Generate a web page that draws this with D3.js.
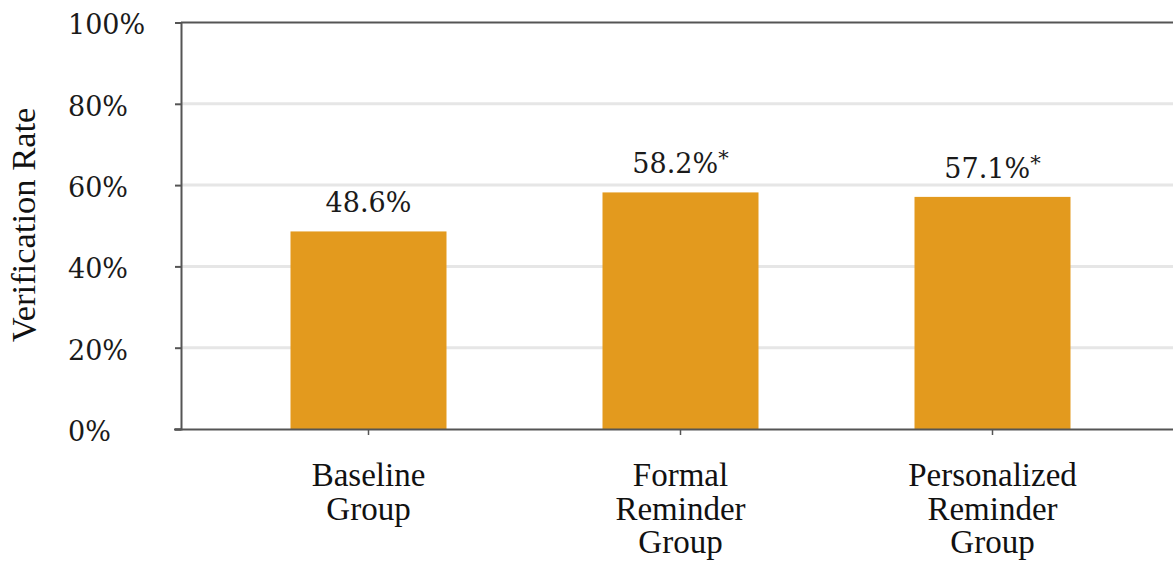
<!DOCTYPE html>
<html>
<head>
<meta charset="utf-8">
<script src="https://cdn.jsdelivr.net/npm/d3@7"></script>
<style>
  html, body { margin: 0; padding: 0; background: #fff; }
  svg { display: block; }
</style>
</head>
<body>
<svg id="chart" width="1173" height="562"></svg>
<script>
// Verification rate by reminder group
const categories = ["Baseline Group", "Formal Reminder Group", "Personalized Reminder Group"];
const categoryLines = [["Baseline", "Group"], ["Formal", "Reminder", "Group"], ["Personalized", "Reminder", "Group"]];
const rates = [48.6, 58.2, 57.1];
const significant = [false, true, true];
const yTicks = [0, 20, 40, 60, 80, 100];

const W = 1173, H = 562;
const axisX = 181, topY = 22.5, baseY = 429;

const svg = d3.select("#chart");

const y = d3.scaleLinear().domain([0, 100]).range([baseY, topY]);
const x = d3.scaleBand()
  .domain(categories)
  .range([212.5, 1148.5])
  .paddingInner(0.5)
  .paddingOuter(0.25);

// light gridlines
svg.append("g")
  .selectAll("line")
  .data(yTicks.filter(t => t > 0 && t < 100))
  .join("line")
  .attr("x1", axisX).attr("x2", W)
  .attr("y1", d => y(d)).attr("y2", d => y(d))
  .attr("stroke", "#e6e6e6")
  .attr("stroke-width", 3);

// top border at 100%
svg.append("line")
  .attr("x1", axisX).attr("x2", W)
  .attr("y1", y(100)).attr("y2", y(100))
  .attr("stroke", "#555").attr("stroke-width", 2);

// bars
svg.append("g")
  .selectAll("rect")
  .data(rates)
  .join("rect")
  .attr("x", (d, i) => x(categories[i]))
  .attr("width", x.bandwidth())
  .attr("y", d => y(d))
  .attr("height", d => y(0) - y(d))
  .attr("fill", "#E39A1E");

// value labels
const vl = svg.append("g")
  .selectAll("text")
  .data(rates)
  .join("text")
  .attr("x", (d, i) => x(categories[i]) + x.bandwidth() / 2)
  .attr("y", d => y(d) - 19)
  .attr("text-anchor", "middle")
  .attr("font-family", "DejaVu Serif")
  .attr("font-size", 27)
  .attr("fill", "#1a1a1a");
vl.append("tspan").text(d => d.toFixed(1) + "%");
vl.filter((d, i) => significant[i])
  .append("tspan")
  .attr("font-size", 21)
  .attr("dy", -8)
  .text("*");

// y axis
const yAxis = svg.append("g")
  .attr("transform", `translate(${axisX},0)`)
  .call(d3.axisLeft(y).tickValues(yTicks).tickSize(6).tickFormat(d => d + "%"));
yAxis.select(".domain").attr("stroke", "#555").attr("stroke-width", 2);
yAxis.selectAll(".tick line").attr("stroke", "#555").attr("stroke-width", 2);
yAxis.selectAll(".tick text")
  .attr("x", 68 - axisX)
  .attr("dy", "0.42em")
  .attr("text-anchor", "start")
  .attr("font-family", "DejaVu Serif")
  .attr("font-size", 27)
  .attr("fill", "#1a1a1a");

// x axis
const xAxis = svg.append("g")
  .attr("transform", `translate(0,${baseY})`)
  .call(d3.axisBottom(x).tickSize(6).tickSizeOuter(0).tickFormat(""));
xAxis.select(".domain").attr("d", `M${axisX - 7},0.5H${W}`).attr("stroke", "#555").attr("stroke-width", 2);
xAxis.selectAll(".tick line").attr("stroke", "#555").attr("stroke-width", 1.5);
xAxis.selectAll(".tick text").remove();
xAxis.selectAll(".tick")
  .append("text")
  .attr("y", 57)
  .attr("text-anchor", "middle")
  .attr("font-family", "Liberation Serif")
  .attr("font-size", 33)
  .attr("fill", "#111")
  .each(function(d, i) {
    const t = d3.select(this);
    categoryLines[categories.indexOf(d)].forEach((line, j) => {
      t.append("tspan").attr("x", 0).attr("dy", j === 0 ? 0 : 33.5).text(line);
    });
  });

// y axis title
svg.append("text")
  .attr("transform", `translate(35,225) rotate(-90)`)
  .attr("text-anchor", "middle")
  .attr("font-family", "Liberation Serif")
  .attr("font-size", 34.5)
  .attr("fill", "#111")
  .text("Verification Rate");
</script>
</body>
</html>
